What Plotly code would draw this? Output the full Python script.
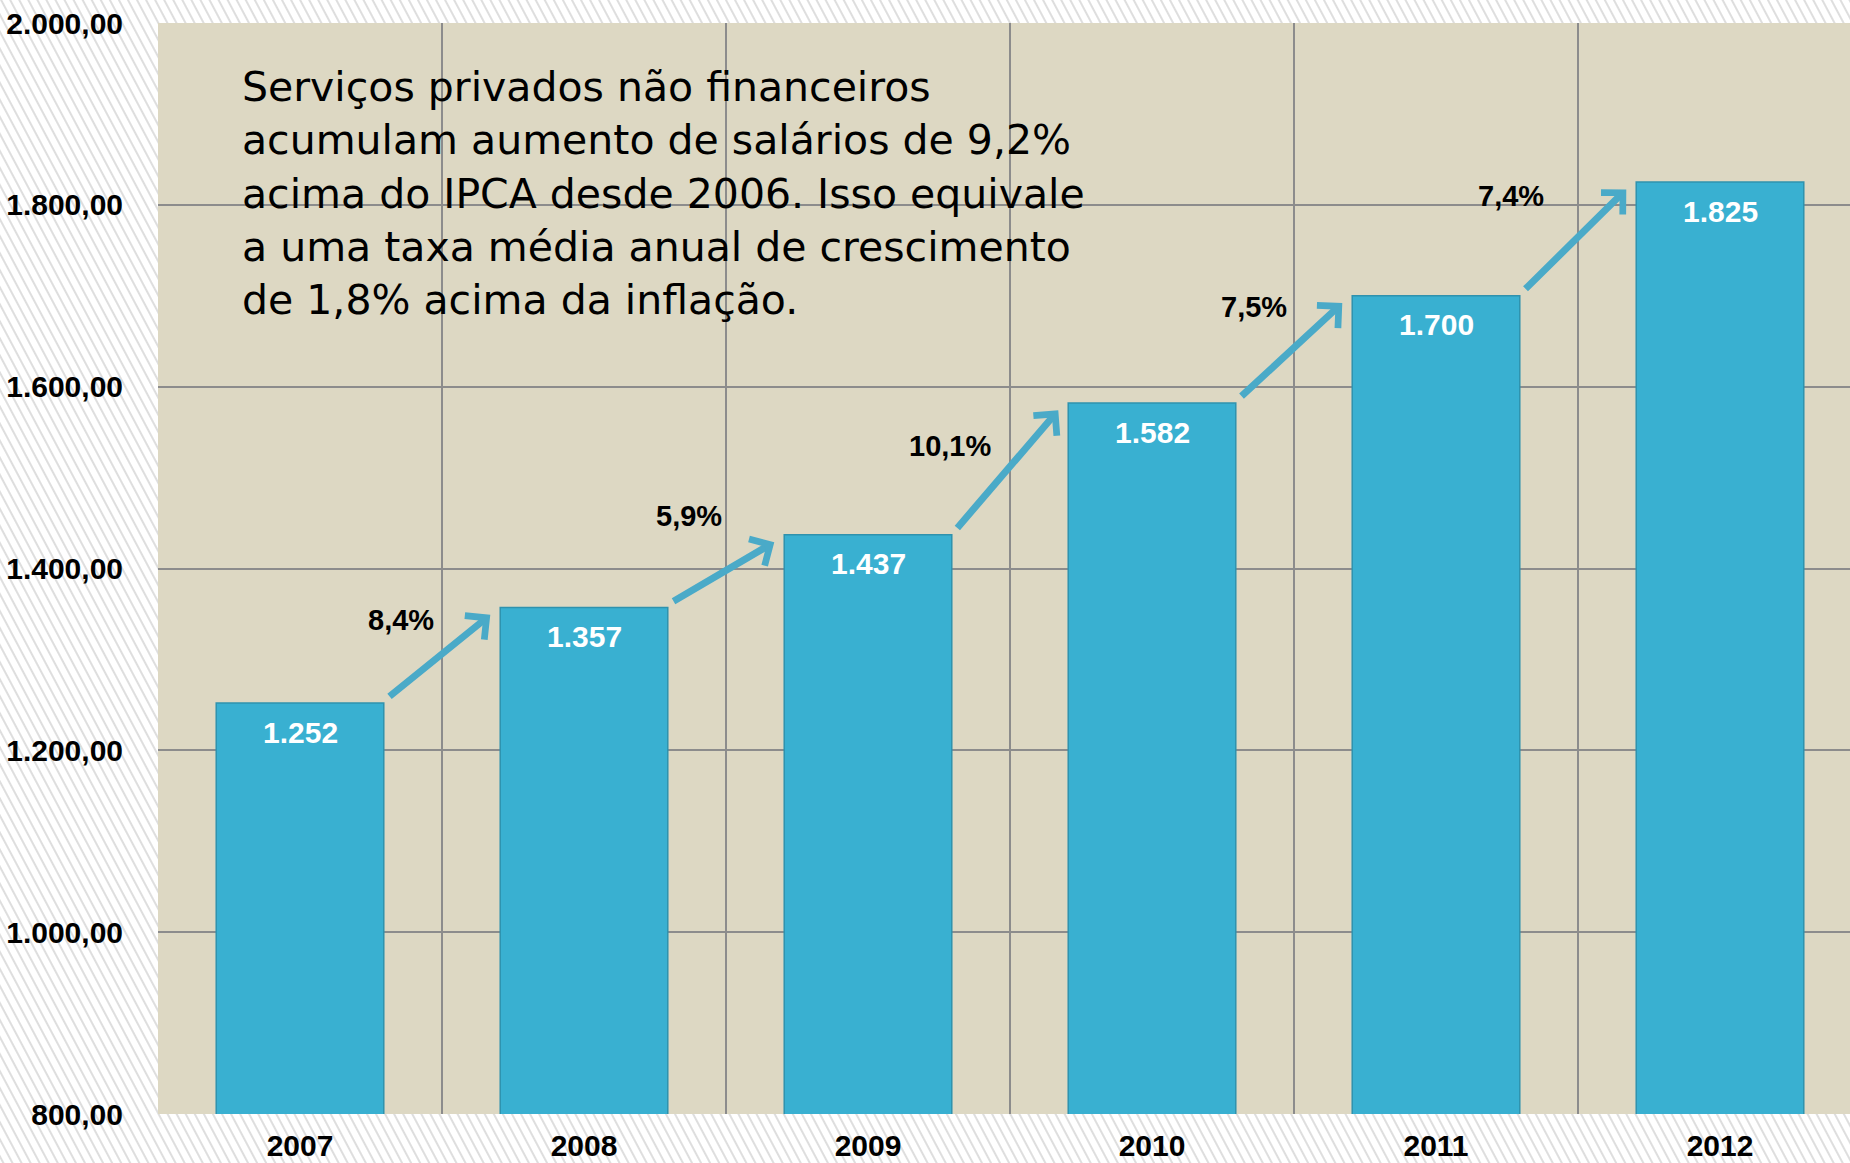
import base64
import plotly.graph_objects as go

years = ["2007", "2008", "2009", "2010", "2011", "2012"]
salaries = [1252, 1357, 1437, 1582, 1700, 1825]
growth_labels = ["8,4%", "5,9%", "10,1%", "7,5%", "7,4%"]
y_ticks = [800, 1000, 1200, 1400, 1600, 1800, 2000]
note_lines = [
    "Serviços privados não financeiros",
    "acumulam aumento de salários de 9,2%",
    "acima do IPCA desde 2006. Isso equivale",
    "a uma taxa média anual de crescimento",
    "de 1,8% acima da inflação.",
]

# pixel offsets (style) for the growth labels, relative to the next bar's top at the category boundary
growth_offsets = [(-41, -12), (-37, 19), (-60, -43), (-40, -11), (-67, -14)]

W, H = 1850, 1163
ML, MT, MB = 158, 23, 49
PW, PH = W - ML, H - MT - MB

x_idx = list(range(len(years)))

bar_color = "#39b0d1"
arrow_color = "#4aaac8"
grid_color = "#8c8c8c"
plot_bg = "#ddd8c3"
num_font = "Liberation Sans, Arial, sans-serif"

fig = go.Figure()
fig.add_trace(go.Bar(
    x=x_idx, y=salaries, width=0.59,
    marker=dict(color=bar_color, line=dict(color="#2f92ae", width=1.5)),
    hoverinfo="skip", showlegend=False,
))

annotations = []
# value labels inside bars
for i, v in enumerate(salaries):
    annotations.append(dict(
        x=i, y=v, xref="x", yref="y", text=f"{v:,.0f}".replace(",", "."),
        showarrow=False, yanchor="middle", yshift=-29,
        font=dict(family=num_font, size=30, color="white", weight="bold"),
    ))

# growth arrows and labels
for i, lab in enumerate(growth_labels):
    annotations.append(dict(
        x=i + 0.67, y=salaries[i + 1] - 8, xref="x", yref="y",
        ax=i + 0.31, ay=salaries[i] + 6, axref="x", ayref="y",
        text="", showarrow=True, arrowhead=4, arrowsize=0.85, arrowwidth=7,
        arrowcolor=arrow_color, standoff=0, startstandoff=0,
    ))
    dx, dy = growth_offsets[i]
    annotations.append(dict(
        x=i + 0.5, y=salaries[i + 1], xref="x", yref="y", text=lab,
        showarrow=False, xshift=dx, yshift=dy,
        font=dict(family=num_font, size=29, color="black", weight="bold"),
    ))

# note text
annotations.append(dict(
    x=(240 - ML) / PW, y=(H - MB - 193) / PH, xref="paper", yref="paper",
    xanchor="left", yanchor="middle", align="left", showarrow=False,
    text="<br>".join(note_lines),
    font=dict(family="DejaVu Sans, sans-serif", size=41, color="black"),
))

# hatched page background with the plot-area fill
svg = (
    f"<svg xmlns='http://www.w3.org/2000/svg' width='{W}' height='{H}'>"
    "<defs><pattern id='p' width='8' height='12' patternUnits='userSpaceOnUse' patternTransform='rotate(-28)'>"
    "<rect width='8' height='12' fill='white'/>"
    "<line x1='1' y1='0' x2='1' y2='12' stroke='#c8c8c8' stroke-width='1.2'/>"
    "</pattern></defs>"
    f"<rect width='{W}' height='{H}' fill='url(#p)'/>"
    f"<rect x='{ML}' y='{MT}' width='{PW}' height='{PH}' fill='{plot_bg}'/></svg>"
)
bg_uri = "data:image/svg+xml;base64," + base64.b64encode(svg.encode()).decode()

fig.update_layout(
    width=W, height=H,
    margin=dict(l=ML, r=0, t=MT, b=MB),
    paper_bgcolor="#f3f3f3",
    plot_bgcolor=plot_bg,
    separators=",.",
    annotations=annotations,
    images=[dict(source=bg_uri, xref="paper", yref="paper", x=-ML / PW, y=1 + MT / PH,
                 sizex=W / PW, sizey=H / PH, xanchor="left", yanchor="top",
                 sizing="stretch", layer="below")],
    showlegend=False,
)
fig.update_xaxes(
    range=[-0.5, -0.5 + PW / 284.0],
    tickvals=x_idx, ticktext=years,
    showgrid=False, zeroline=False, showline=False,
    ticks="", ticklabelstandoff=11,
    tickfont=dict(family=num_font, size=30, color="black", weight="bold"),
    minor=dict(tickmode="linear", tick0=-0.5, dtick=1, showgrid=True,
               gridcolor=grid_color, gridwidth=1.5, ticks=""),
)
fig.update_yaxes(
    range=[800, 2000], tickvals=y_ticks, tickformat=",.2f",
    showgrid=True, gridcolor=grid_color, gridwidth=1.5,
    zeroline=False, showline=False, ticks="", ticklabelstandoff=34,
    tickfont=dict(family=num_font, size=30, color="black", weight="bold"),
)

fig.write_html("out.html", config={"displayModeBar": False},
               post_script="document.body.style.margin='0px';")
